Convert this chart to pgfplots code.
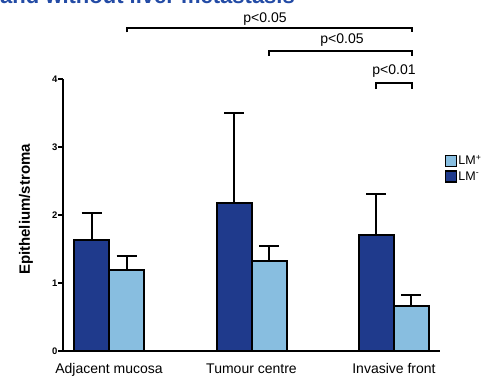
\documentclass[border=0pt]{standalone}
\usepackage{fontspec}
\setmainfont{Liberation Sans}
\usepackage{pgfplots}
\usepackage{pgfplotstable}
\pgfplotsset{compat=1.18}
\definecolor{darkb}{RGB}{31,58,140}
\definecolor{lightb}{RGB}{136,190,224}
\definecolor{titleb}{RGB}{35,75,165}

\pgfplotstableread{
x y e
0 1.63 0.40
1 2.17 1.33
2 1.71 0.60
}\darkdata
\pgfplotstableread{
x y e
0 1.19 0.20
1 1.33 0.22
2 0.66 0.16
}\lightdata

\begin{document}
\begin{tikzpicture}
\begin{axis}[name=ax, scale only axis, width=377pt, height=272pt,
  xmin=-0.323, xmax=2.323, ymin=0, ymax=4,
  axis x line=bottom, axis y line=left,
  axis line style={-, line width=1.5pt, black},
  ybar=0pt, bar width=35pt,
  xtick={0,1,2}, xticklabels={Adjacent mucosa, Tumour centre, Invasive front},
  x tick style={draw=none},
  x tick label style={font=\fontsize{14}{16}\selectfont, yshift=-4pt},
  ytick={0,1,2,3,4},
  y tick label style={font=\bfseries\fontsize{9.5}{11}\selectfont, inner sep=0.5pt},
  /pgf/number format/assume math mode=true,
  tick align=outside, major tick length=5pt,
  y tick style={line width=1.5pt, black},
  ylabel={Epithelium/stroma},
  ylabel style={font=\bfseries\fontsize{15}{17}\selectfont, at={(axis description cs:-0.098,0.52)}, anchor=center},
  clip=false,
  reverse legend,
  legend style={at={(axis description cs:1.012,0.725)}, anchor=north west, draw=none, fill=none,
    font=\fontsize{12.5}{14}\selectfont, inner sep=0pt, row sep=2pt,
    nodes={inner sep=1.5pt}},
  legend cell align=left,
  legend image code/.code={\draw[#1, line width=1.2pt] (0pt,-5.5pt) rectangle (11pt,5.5pt);},
]
\addplot[fill=darkb, draw=black, line width=2pt,
  error bars/.cd, y dir=plus, y explicit, error mark=|,
  error bar style={line width=2pt, black},
  error mark options={line width=2pt, mark size=10pt, black}]
  table[x=x, y=y, y error=e] {\darkdata};
\addlegendentry{LM\textsuperscript{-}}
\addplot[fill=lightb, draw=black, line width=2pt,
  error bars/.cd, y dir=plus, y explicit, error mark=|,
  error bar style={line width=2pt, black},
  error mark options={line width=2pt, mark size=10pt, black}]
  table[x=x, y=y, y error=e] {\lightdata};
\addlegendentry{LM\textsuperscript{+}}

\draw[line width=2pt] (axis cs:0.123,4.685) -- (axis cs:0.123,4.757) -- (axis cs:2.123,4.757) -- (axis cs:2.123,4.685);
\draw[line width=2pt] (axis cs:1.123,4.345) -- (axis cs:1.123,4.416) -- (axis cs:2.123,4.416) -- (axis cs:2.123,4.345);
\draw[line width=2pt] (axis cs:1.877,3.85) -- (axis cs:1.877,3.937) -- (axis cs:2.123,3.937) -- (axis cs:2.123,3.85);
\node[anchor=base, font=\fontsize{14}{16}\selectfont, inner sep=0pt] at (axis cs:1.095,4.83) {p<0.05};
\node[anchor=base, font=\fontsize{14}{16}\selectfont, inner sep=0pt] at (axis cs:1.635,4.515) {p<0.05};
\node[anchor=base, font=\fontsize{14}{16}\selectfont, inner sep=0pt] at (axis cs:2.0,4.07) {p<0.01};
\end{axis}
\node[anchor=base west, font=\bfseries\fontsize{22}{24}\selectfont, text=titleb, inner sep=0pt]
  at ([xshift=-63pt, yshift=347.5pt]ax.south west) {and without liver metastasis};
\pgfresetboundingbox
\path[use as bounding box] ([xshift=-63pt,yshift=-27pt]ax.south west) rectangle ([xshift=434pt,yshift=351pt]ax.south west);
\end{tikzpicture}
\end{document}
